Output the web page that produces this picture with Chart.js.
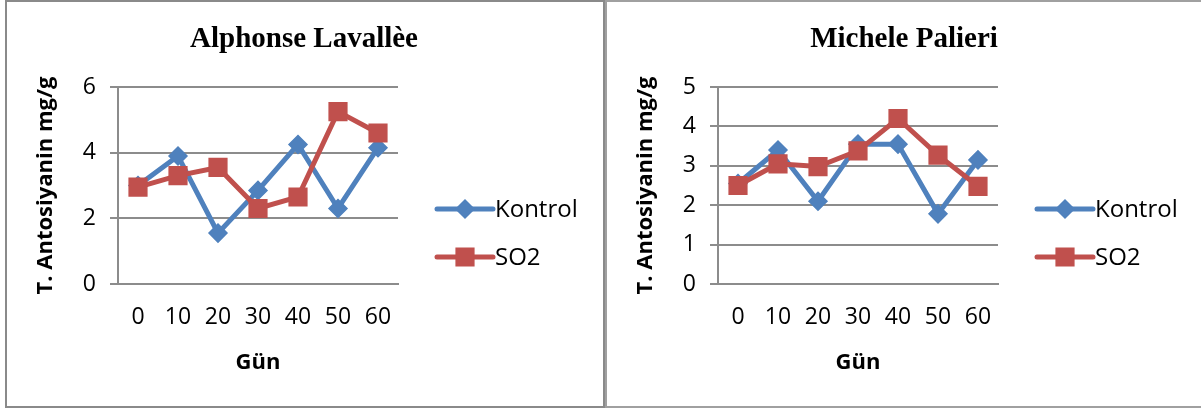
<!DOCTYPE html>
<html>
<head>
<meta charset="utf-8">
<script src="https://cdn.jsdelivr.net/npm/chart.js@4.4.1/dist/chart.umd.min.js"></script>
<style>
  html, body { margin: 0; padding: 0; background: #fff; }
  body { width: 1201px; height: 410px; position: relative; overflow: hidden; }
  .panel { position: absolute; top: 0; height: 404px; border: 2px solid #8a8a8a; background: #fff; }
  #p1 { left: 5px; width: 596px; }
  #p2 { left: 605px; width: 596px; border-color: #a0a0a0; }
  .panel canvas { position: absolute; left: 0; top: 0; }
</style>
</head>
<body>
<div class="panel" id="p1"><canvas id="c1" width="594" height="404"></canvas></div>
<div class="panel" id="p2"><canvas id="c2" width="594" height="404"></canvas></div>
<script>
// veriler
const days = ['0', '10', '20', '30', '40', '50', '60'];
const seriesNames = ['Kontrol', 'SO2'];

const alphonseKontrol = [3.0, 3.9, 1.55, 2.85, 4.25, 2.3, 4.15];
const alphonseSO2 = [2.95, 3.3, 3.55, 2.3, 2.65, 5.25, 4.6];

const micheleKontrol = [2.55, 3.4, 2.1, 3.55, 3.55, 1.78, 3.15];
const micheleSO2 = [2.5, 3.05, 2.98, 3.38, 4.2, 3.27, 2.48];

const blue = '#4F81BD';
const red = '#C0504D';
const gridGrey = '#8c8c8c';

// başlık + lejant (Excel tarzı, çizgi üzerinde işaretçi)
const decorPlugin = {
    id: 'decor',
    afterDraw(chart, args, opts) {
        const ctx = chart.ctx;
        ctx.save();
        ctx.fillStyle = '#000';
        ctx.font = 'bold 29px "Liberation Serif", "Times New Roman", serif';
        ctx.textAlign = 'center';
        ctx.textBaseline = 'middle';
        ctx.fillText(opts.title, chart.width / 2, 38);

        chart.data.datasets.forEach((ds, i) => {
            const y = 207 + i * 48;
            const x0 = 430, x1 = 486;
            ctx.strokeStyle = ds.borderColor;
            ctx.lineWidth = ds.borderWidth;
            ctx.lineCap = 'round';
            ctx.beginPath();
            ctx.moveTo(x0, y);
            ctx.lineTo(x1, y);
            ctx.stroke();
            ctx.fillStyle = ds.pointBackgroundColor;
            ctx.strokeStyle = ds.pointBorderColor;
            ctx.lineWidth = ds.pointBorderWidth;
            Chart.helpers.drawPoint(ctx, {
                pointStyle: ds.pointStyle,
                radius: ds.pointRadius,
                rotation: 0,
                borderWidth: ds.pointBorderWidth
            }, (x0 + x1) / 2, y);
            ctx.fillStyle = '#000';
            ctx.font = '24px "Open Sans", sans-serif';
            ctx.textAlign = 'left';
            ctx.textBaseline = 'middle';
            ctx.fillText(ds.label, x1 + 2, y + 1);
        });
        ctx.restore();
    }
};

function makeDataset(label, data, color, style, radius, order) {
    return {
        label,
        data,
        borderColor: color,
        backgroundColor: color,
        borderWidth: 5,
        pointStyle: style,
        pointRadius: radius,
        pointHoverRadius: radius,
        pointBackgroundColor: color,
        pointBorderColor: color,
        pointBorderWidth: 1.5,
        tension: 0,
        order
    };
}

function makeChart(id, title, kontrol, so2, yMax, yStep) {
    return new Chart(document.getElementById(id), {
        type: 'line',
        data: {
            labels: days,
            datasets: [
                makeDataset(seriesNames[0], kontrol, blue, 'rectRot', 9, 2),
                makeDataset(seriesNames[1], so2, red, 'rect', 12.5, 1)
            ]
        },
        options: {
            responsive: false,
            animation: false,
            events: [],
            layout: { padding: { top: 85, left: 0, right: 203, bottom: 22 } },
            plugins: {
                legend: { display: false },
                tooltip: { enabled: false },
                decor: { title }
            },
            scales: {
                x: {
                    offset: true,
                    grid: { display: false, drawTicks: false },
                    border: { display: true, color: gridGrey, width: 2 },
                    ticks: {
                        color: '#000',
                        padding: 20,
                        maxRotation: 0,
                        autoSkip: false,
                        font: { family: '"Open Sans", sans-serif', size: 23 }
                    },
                    title: {
                        display: true,
                        text: 'Gün',
                        color: '#000',
                        padding: { top: 0, bottom: 8 },
                        font: { family: '"Open Sans", sans-serif', size: 22, weight: 'bold' }
                    },
                    afterFit: (s) => { s.height = 100; }
                },
                y: {
                    min: 0,
                    max: yMax,
                    grid: { color: gridGrey, lineWidth: 2, tickLength: 8 },
                    border: { display: true, color: gridGrey, width: 2 },
                    ticks: {
                        stepSize: yStep,
                        color: '#000',
                        padding: 14,
                        font: { family: '"Open Sans", sans-serif', size: 23 }
                    },
                    title: {
                        display: true,
                        text: 'T. Antosiyanin mg/g',
                        color: '#000',
                        padding: { top: 26, bottom: 0 },
                        font: { family: '"Open Sans", sans-serif', size: 22, weight: 'bold' }
                    },
                    afterFit: (s) => { s.width = 111; }
                }
            }
        },
        plugins: [decorPlugin]
    });
}

makeChart('c1', 'Alphonse Lavallèe', alphonseKontrol, alphonseSO2, 6, 2);
makeChart('c2', 'Michele Palieri', micheleKontrol, micheleSO2, 5, 1);
</script>
</body>
</html>
